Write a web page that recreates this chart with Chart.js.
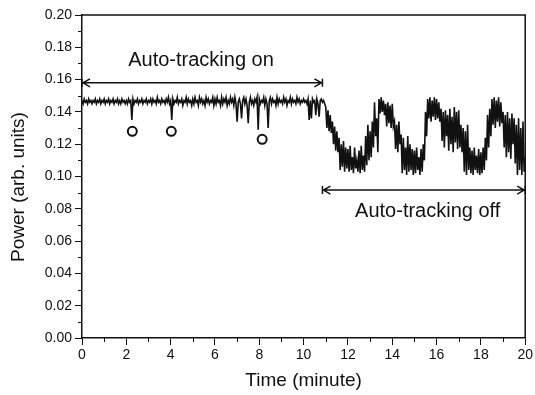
<!DOCTYPE html>
<html>
<head>
<meta charset="utf-8">
<script src="https://cdn.jsdelivr.net/npm/chart.js@4/dist/chart.umd.min.js"></script>
<style>
  body { margin: 0; background: #fff; }
  #wrap { width: 535px; height: 395px; }
</style>
</head>
<body>
<div id="wrap"><canvas id="powerChart" width="535" height="395"></canvas></div>
<script>
// Data
const sampleStep = 0.05; // minutes between samples, first sample at t = 0
// one row = one minute (20 samples)
const power = [
  0.147,0.145,0.148,0.146,0.147,0.145,0.148,0.146,0.147,0.145,0.147,0.146,0.148,0.145,0.147,0.146,0.148,0.145,0.147,0.146,
  0.148,0.145,0.147,0.146,0.148,0.145,0.147,0.146,0.148,0.145,0.147,0.146,0.148,0.145,0.147,0.145,0.148,0.146,0.147,0.145,
  0.147,0.145,0.148,0.146,0.147,0.135,0.148,0.145,0.147,0.146,0.148,0.145,0.147,0.146,0.148,0.145,0.147,0.146,0.148,0.145,
  0.147,0.146,0.148,0.145,0.148,0.146,0.147,0.145,0.149,0.146,0.147,0.145,0.148,0.146,0.147,0.145,0.148,0.146,0.149,0.145,
  0.147,0.135,0.148,0.145,0.147,0.146,0.149,0.145,0.147,0.146,0.148,0.144,0.147,0.146,0.149,0.145,0.148,0.146,0.147,0.144,
  0.148,0.145,0.149,0.146,0.147,0.144,0.149,0.146,0.148,0.145,0.147,0.144,0.149,0.146,0.148,0.145,0.147,0.146,0.149,0.144,
  0.148,0.145,0.149,0.146,0.147,0.144,0.149,0.145,0.148,0.146,0.149,0.144,0.147,0.145,0.149,0.146,0.148,0.144,0.149,0.145,
  0.134,0.146,0.148,0.145,0.136,0.147,0.149,0.145,0.148,0.144,0.133,0.146,0.149,0.145,0.147,0.144,0.148,0.146,0.149,0.129,
  0.148,0.145,0.147,0.146,0.149,0.144,0.148,0.145,0.130,0.147,0.149,0.145,0.148,0.146,0.147,0.144,0.149,0.145,0.148,0.146,
  0.147,0.145,0.149,0.146,0.148,0.144,0.147,0.146,0.149,0.145,0.148,0.146,0.147,0.145,0.149,0.146,0.148,0.145,0.147,0.146,
  0.148,0.146,0.147,0.145,0.148,0.135,0.147,0.136,0.148,0.146,0.147,0.138,0.148,0.145,0.137,0.147,0.148,0.146,0.147,0.145,
  0.143,0.130,0.141,0.128,0.138,0.127,0.134,0.120,0.131,0.116,0.128,0.115,0.124,0.104,0.120,0.106,0.122,0.103,0.118,0.105,
  0.117,0.103,0.119,0.104,0.112,0.102,0.118,0.105,0.110,0.103,0.116,0.102,0.119,0.104,0.113,0.103,0.125,0.107,0.132,0.110,
  0.128,0.112,0.134,0.118,0.146,0.125,0.136,0.115,0.148,0.139,0.149,0.140,0.147,0.138,0.145,0.131,0.146,0.133,0.144,0.130,
  0.145,0.131,0.134,0.117,0.132,0.115,0.134,0.120,0.126,0.102,0.124,0.104,0.118,0.101,0.125,0.103,0.120,0.104,0.117,0.101,
  0.116,0.102,0.118,0.104,0.112,0.101,0.117,0.103,0.120,0.110,0.140,0.125,0.148,0.136,0.149,0.134,0.147,0.137,0.149,0.135,
  0.148,0.136,0.146,0.134,0.142,0.122,0.140,0.118,0.141,0.125,0.138,0.116,0.142,0.120,0.137,0.115,0.143,0.121,0.140,0.117,
  0.141,0.118,0.132,0.115,0.130,0.103,0.128,0.101,0.132,0.104,0.118,0.102,0.116,0.101,0.118,0.104,0.113,0.102,0.117,0.101,
  0.115,0.102,0.118,0.104,0.124,0.110,0.138,0.118,0.142,0.125,0.148,0.132,0.149,0.130,0.147,0.134,0.149,0.131,0.146,0.133,
  0.140,0.118,0.138,0.112,0.140,0.115,0.136,0.111,0.139,0.120,0.136,0.108,0.132,0.101,0.136,0.104,0.130,0.101,0.134,0.103,
  0.112
];

// open circles under the dips
const markerTimes = [2.27, 4.03, 8.13];
const markerPower = [0.128, 0.128, 0.123];

// span arrows + their labels (data units)
const spanLabels = ["Auto-tracking on", "Auto-tracking off"];
const spanStart = [0, 10.85];
const spanEnd = [10.85, 20];
const spanLevel = [0.158, 0.0916];
const labelTime = [5.37, 15.6];
const labelLevel = [0.172, 0.0786];

const FONT = "'Liberation Sans', Arial, Helvetica, sans-serif";
const INK = "#111";

const tracePoints = power.map((v, i) => ({ x: +(i * sampleStep).toFixed(2), y: v }));
const markerPoints = markerTimes.map((t, i) => ({ x: t, y: markerPower[i] }));

// frame, minor ticks, arrows and labels
const extras = {
    id: "extras",
    afterDraw(chart){
        const { ctx, chartArea: a, scales: { x, y } } = chart;
        ctx.save();
        ctx.strokeStyle = INK;
        ctx.fillStyle = INK;

        ctx.lineWidth = 1.5;
        ctx.beginPath();
        ctx.moveTo(a.left, a.top);
        ctx.lineTo(a.right, a.top);
        ctx.lineTo(a.right, a.bottom);
        ctx.stroke();

        // minor ticks
        ctx.lineWidth = 1;
        ctx.beginPath();
        for(let t = 1; t < 20; t += 2){
            const px = Math.round(x.getPixelForValue(t)) + 0.5;
            ctx.moveTo(px, a.bottom); ctx.lineTo(px, a.bottom + 4);
        }
        for(let k = 1; k < 20; k += 2){
            const py = Math.round(y.getPixelForValue(k / 100)) + 0.5;
            ctx.moveTo(a.left, py); ctx.lineTo(a.left - 4, py);
        }
        ctx.stroke();

        // span arrows
        ctx.lineWidth = 1.5;
        spanLabels.forEach((label, i) => {
            const x0 = x.getPixelForValue(spanStart[i]);
            const x1 = x.getPixelForValue(spanEnd[i]);
            const py = y.getPixelForValue(spanLevel[i]);
            ctx.beginPath();
            ctx.moveTo(x0, py); ctx.lineTo(x1, py);
            ctx.moveTo(x0 + 8, py - 4); ctx.lineTo(x0 + 1, py); ctx.lineTo(x0 + 8, py + 4);
            ctx.moveTo(x1 - 8, py - 4); ctx.lineTo(x1 - 1, py); ctx.lineTo(x1 - 8, py + 4);
            ctx.moveTo(x0, py - 4); ctx.lineTo(x0, py + 4);
            ctx.moveTo(x1, py - 4); ctx.lineTo(x1, py + 4);
            ctx.stroke();

            ctx.font = "20px " + FONT;
            ctx.textAlign = "center";
            ctx.textBaseline = "middle";
            ctx.fillText(label, x.getPixelForValue(labelTime[i]), y.getPixelForValue(labelLevel[i]));
        });
        ctx.restore();
    }
};

const ctx = document.getElementById("powerChart").getContext("2d");
new Chart(ctx, {
    type: "scatter",
    data: {
        datasets: [
            {
                label: "Power",
                data: tracePoints,
                showLine: true,
                borderColor: INK,
                borderWidth: 1.6,
                pointRadius: 0,
                tension: 0
            },
            {
                label: "Dips",
                data: markerPoints,
                showLine: false,
                pointStyle: "circle",
                pointRadius: 4.5,
                borderWidth: 2,
                borderColor: INK,
                backgroundColor: "#fff"
            }
        ]
    },
    options: {
        responsive: false,
        animation: false,
        layout: { padding: { left: 0, top: 15, right: 8, bottom: 0 } },
        plugins: { legend: { display: false }, tooltip: { enabled: false } },
        scales: {
            x: {
                type: "linear",
                min: 0, max: 20,
                afterFit: s => { s.height = 57; },
                border: { color: INK, width: 1.5 },
                grid: { drawOnChartArea: false, tickLength: 7, tickColor: INK, tickWidth: 1 },
                ticks: { stepSize: 2, padding: 2, color: INK, font: { family: FONT, size: 14 } },
                title: { display: true, text: "Time (minute)", color: INK, font: { family: FONT, size: 19 }, padding: { top: 0, bottom: 3 } }
            },
            y: {
                min: 0, max: 0.2,
                afterFit: s => { s.width = 82; },
                border: { color: INK, width: 1.5 },
                grid: { drawOnChartArea: false, tickLength: 7, tickColor: INK, tickWidth: 1 },
                ticks: { stepSize: 0.02, padding: 3, color: INK, font: { family: FONT, size: 14 }, callback: v => v.toFixed(2) },
                title: { display: true, text: "Power (arb. units)    ", color: INK, font: { family: FONT, size: 19 }, padding: { top: 7, bottom: 0 } }
            }
        }
    },
    plugins: [extras]
});
</script>
</body>
</html>
